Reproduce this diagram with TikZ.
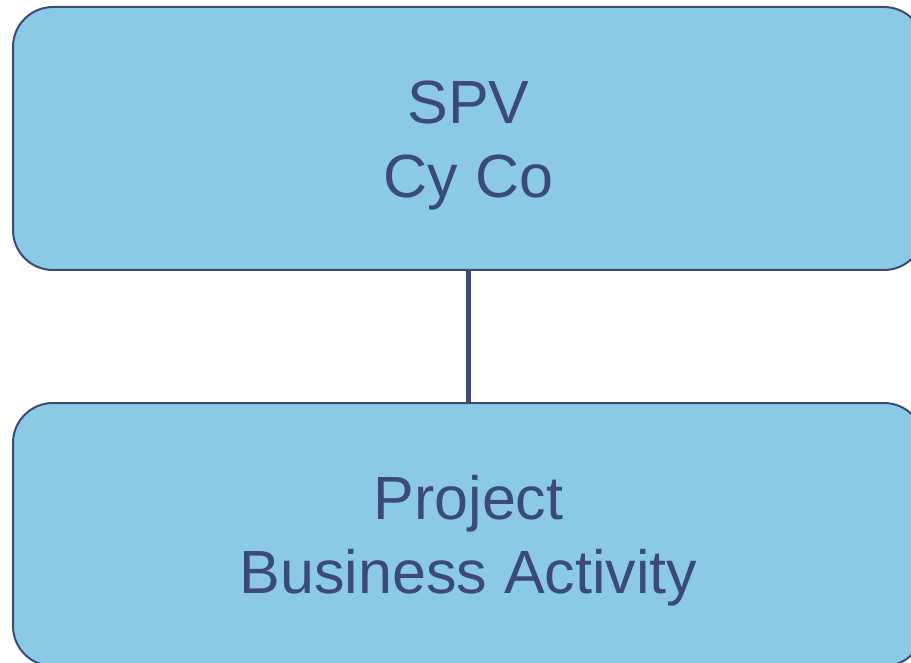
\documentclass[tikz,border=0pt]{standalone}
\usepackage{fontspec}
\setmainfont{Liberation Sans}
\usetikzlibrary{positioning}
\definecolor{boxblue}{HTML}{8BCAE5}
\definecolor{inkblue}{HTML}{3B4A79}

\begin{document}
\begin{tikzpicture}[x=1pt,y=1pt,node distance=131pt,line width=2pt,
  entity/.style={draw=inkblue,fill=boxblue,rounded corners=40pt,minimum width=911pt,minimum height=263pt,
    text=inkblue,align=center,inner sep=0pt,text height=130pt,font=\fontsize{61}{74}\selectfont}]
  \useasboundingbox (0,0) rectangle (911,-663);
  \node[entity] (spv) at (468.5,-138.5) {SPV\\Cy Co};
  \node[entity] (proj) [below=of spv] {Project\\Business Activity};

  \path (spv) edge [draw=inkblue,line width=5.5pt] (proj);
\end{tikzpicture}
\end{document}
